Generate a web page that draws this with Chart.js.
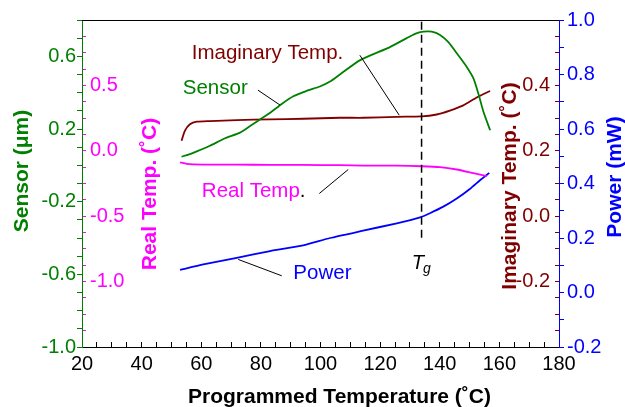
<!DOCTYPE html>
<html>
<head>
<meta charset="utf-8">
<script src="https://cdn.jsdelivr.net/npm/chart.js@4.4.0/dist/chart.umd.min.js"></script>
<style>
  html, body { margin: 0; padding: 0; background: #fff; }
  #wrap { width: 625px; height: 407px; }
</style>
</head>
<body>
<div id="wrap"><canvas id="chart"></canvas></div>
<script>
// values (temperature in °C)
const sensorTemp = [53.4, 56.2, 58.5, 62.9, 68.0, 73.0, 76.4, 79.7, 83.1, 87.0, 90.9, 95.4, 99.8, 103.2, 106.5,
  113.3, 123.3, 128.9, 131.7, 134.5, 137.3, 140.1, 142.9, 146.2, 149.0, 151.3, 152.9, 154.6, 156.9];
const sensorValues = [0.048, 0.062, 0.077, 0.108, 0.149, 0.180, 0.216, 0.252, 0.289, 0.338, 0.380, 0.410, 0.434, 0.461, 0.500,
  0.579, 0.651, 0.700, 0.724, 0.736, 0.736, 0.718, 0.678, 0.606, 0.543, 0.479, 0.398, 0.298, 0.193];

const imagTemp = [53.4, 54.5, 56.2, 58.5, 62.9, 71.9, 83.1, 94.2, 106.5, 114.3, 125.6, 133.9, 139.0, 143.4, 147.9, 152.4, 156.9];
const imagValues = [0.231, 0.261, 0.281, 0.289, 0.291, 0.294, 0.296, 0.298, 0.301, 0.301, 0.304, 0.305, 0.311, 0.323, 0.339, 0.363, 0.383];

const realTemp = [52.9, 55.1, 60.7, 71.9, 83.1, 94.2, 106.5, 114.3, 125.6, 134.0, 140.1, 145.7, 151.3, 155.8];
const realValues = [-0.088, -0.100, -0.105, -0.105, -0.108, -0.108, -0.110, -0.113, -0.113, -0.118, -0.125, -0.143, -0.171, -0.193];

const powerTemp = [52.9, 60.7, 71.9, 83.1, 94.2, 103.2, 114.3, 125.6, 133.4, 136.7, 141.2, 145.7, 150.2, 153.5, 156.6];
const powerValues = [0.083, 0.103, 0.127, 0.152, 0.173, 0.200, 0.227, 0.254, 0.276, 0.291, 0.315, 0.345, 0.381, 0.412, 0.439];

const xTickLabels = ['20', '40', '60', '80', '100', '120', '140', '160', '180'];
const sensorTickLabels = ['-1.0', '-0.6', '-0.2', '0.2', '0.6'];
const realTickLabels = ['-1.0', '-0.5', '0.0', '0.5'];
const imagTickLabels = ['-0.2', '0.0', '0.2', '0.4'];
const powerTickLabels = ['-0.2', '0.0', '0.2', '0.4', '0.6', '0.8', '1.0'];

const tgTemp = 133.9;

// annotations, in (temperature, sensor value) units
const tgLineSpan = [0.79, -0.424];
const leaderLines = [
  [79.0, 0.414, 86.4, 0.332],
  [113.2, 0.606, 126.4, 0.276],
  [99.6, -0.155, 109.3, -0.023],
  [72.4, -0.518, 87.0, -0.608]
];
const curveLabels = [
  { text: 'Imaginary Temp.', x: 56.8, y: 0.584, color: '#800000' },
  { text: 'Sensor', x: 53.8, y: 0.392, color: '#008000' },
  { text: 'Real Temp', x: 60.2, y: -0.173, color: '#ff00ff' },
  { text: 'Power', x: 90.9, y: -0.625, color: '#0000ff' }
];
const tgLabelPos = [130.6, -0.572];

const FONT = '"Liberation Sans", Arial, sans-serif';
Chart.defaults.font.family = FONT;
Chart.defaults.font.size = 20;

const toPoints = (xs, ys) => xs.map((x, i) => ({ x: x, y: ys[i] }));
const fmt1 = v => (Math.abs(v) < 1e-9 ? 0 : v).toFixed(1);
const pick = list => v => (list.includes(fmt1(v)) ? fmt1(v) : '');

const overlay = {
  id: 'overlay',
  afterDatasetsDraw(chart) {
    const { ctx, chartArea: a, scales } = chart;
    const px = v => scales.x.getPixelForValue(v);
    const py = v => scales.ySensor.getPixelForValue(v);
    ctx.save();

    // top frame
    ctx.strokeStyle = '#000';
    ctx.lineWidth = 1;
    ctx.beginPath();
    ctx.moveTo(a.left, a.top + 0.5);
    ctx.lineTo(a.right, a.top + 0.5);
    ctx.stroke();

    // Tg marker
    ctx.setLineDash([8, 5]);
    ctx.lineWidth = 1.5;
    ctx.beginPath();
    ctx.moveTo(px(tgTemp), py(tgLineSpan[0]));
    ctx.lineTo(px(tgTemp), py(tgLineSpan[1]));
    ctx.stroke();
    ctx.setLineDash([]);

    ctx.lineWidth = 1;
    leaderLines.forEach(l => {
      ctx.beginPath();
      ctx.moveTo(px(l[0]), py(l[1]));
      ctx.lineTo(px(l[2]), py(l[3]));
      ctx.stroke();
    });

    ctx.font = '20.5px ' + FONT;
    ctx.textBaseline = 'alphabetic';
    ctx.textAlign = 'left';
    curveLabels.forEach(l => {
      ctx.fillStyle = l.color;
      ctx.fillText(l.text, px(l.x), py(l.y));
      if (l.text === 'Real Temp') {
        ctx.fillStyle = '#000';
        ctx.fillText('.', px(l.x) + ctx.measureText(l.text).width, py(l.y));
      }
    });

    ctx.fillStyle = '#000';
    ctx.font = 'italic 20px ' + FONT;
    ctx.fillText('T', px(tgLabelPos[0]), py(tgLabelPos[1]));
    const tw = ctx.measureText('T').width;
    ctx.font = 'italic 14px ' + FONT;
    ctx.fillText('g', px(tgLabelPos[0]) + tw - 1, py(tgLabelPos[1]) + 4);

    // axis titles
    ctx.font = 'bold 21px ' + FONT;
    ctx.textAlign = 'center';
    const vTitle = (text, x, y, color) => {
      ctx.save();
      ctx.translate(x, y);
      ctx.rotate(-Math.PI / 2);
      ctx.fillStyle = color;
      ctx.fillText(text, 0, 0);
      ctx.restore();
    };
    vTitle('Sensor (μm)', a.left - 54, a.top + 151, '#008000');
    vTitle('Real Temp. (˚C)', a.left + 74, a.top + 174, '#ff00ff');
    vTitle('Imaginary Temp. (˚C)', a.right - 43, a.top + 166, '#800000');
    vTitle('Power (mW)', a.right + 62, a.top + 157, '#0000ff');
    ctx.fillStyle = '#000';
    ctx.fillText('Programmed Temperature (˚C)', (a.left + a.right) / 2 + 19, a.bottom + 56);

    ctx.restore();
  }
};

const lineSet = (label, xs, ys, color, axis) => ({
  label: label,
  data: toPoints(xs, ys),
  yAxisID: axis,
  borderColor: color,
  borderWidth: 1.8,
  pointRadius: 0,
  fill: false,
  tension: 0.2
});

new Chart(document.getElementById('chart'), {
  type: 'line',
  data: {
    datasets: [
      lineSet('Sensor', sensorTemp, sensorValues, '#008000', 'ySensor'),
      lineSet('Imaginary Temp.', imagTemp, imagValues, '#800000', 'yImag'),
      lineSet('Real Temp.', realTemp, realValues, '#ff00ff', 'yReal'),
      lineSet('Power', powerTemp, powerValues, '#0000ff', 'yPower')
    ]
  },
  options: {
    responsive: true,
    maintainAspectRatio: false,
    animation: false,
    layout: { padding: { top: 16, left: 0, right: 0, bottom: 0 } },
    plugins: { legend: { display: false }, tooltip: { enabled: false } },
    scales: {
      x: {
        type: 'linear',
        position: 'bottom',
        min: 20,
        max: 180,
        afterFit: s => { s.height = 60; },
        ticks: {
          stepSize: 5,
          autoSkip: false,
          maxRotation: 0,
          color: '#000',
          padding: 10,
          callback: v => (xTickLabels.includes(String(Math.round(v))) ? String(Math.round(v)) : '')
        },
        grid: { drawOnChartArea: false, tickLength: -5, tickColor: '#000' },
        border: { color: '#000', width: 1 }
      },
      ySensor: {
        type: 'linear',
        position: 'left',
        weight: 1,
        min: -1,
        max: 0.8,
        afterFit: s => { s.width = 82; },
        ticks: { stepSize: 0.1, autoSkip: false, color: '#008000', padding: 1, callback: pick(sensorTickLabels) },
        grid: { drawOnChartArea: false, tickLength: 5, tickColor: '#008000' },
        border: { color: '#008000', width: 1 }
      },
      yReal: {
        type: 'linear',
        position: 'left',
        weight: 0,
        min: -1.5,
        max: 1,
        afterFit: s => { s.width = 0; },
        ticks: { stepSize: 0.125, autoSkip: false, mirror: true, color: '#ff00ff', padding: 8, callback: pick(realTickLabels) },
        grid: { drawOnChartArea: false, tickLength: -4, tickColor: '#ff00ff' },
        border: { display: false }
      },
      yImag: {
        type: 'linear',
        position: 'right',
        weight: 0,
        min: -0.4,
        max: 0.6,
        afterFit: s => { s.width = 0; },
        ticks: { stepSize: 0.05, autoSkip: false, mirror: true, color: '#800000', padding: -9, callback: pick(imagTickLabels) },
        grid: { drawOnChartArea: false, tickLength: -4, tickColor: '#800000' },
        border: { display: false }
      },
      yPower: {
        type: 'linear',
        position: 'right',
        weight: 1,
        min: -0.2,
        max: 1.0,
        afterFit: s => { s.width = 66; },
        ticks: { stepSize: 0.1, autoSkip: false, color: '#0000ff', padding: 3, callback: pick(powerTickLabels) },
        grid: { drawOnChartArea: false, tickLength: 5, tickColor: '#0000ff' },
        border: { color: '#0000ff', width: 1 }
      }
    }
  },
  plugins: [overlay]
});
</script>
</body>
</html>
